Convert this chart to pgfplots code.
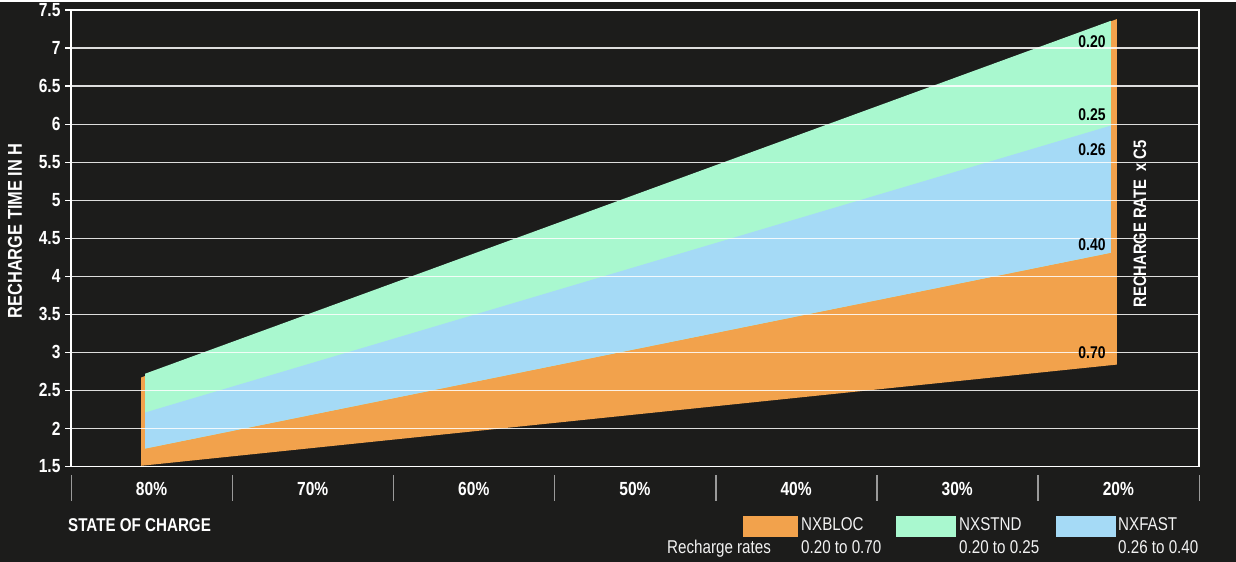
\documentclass[border=0pt]{standalone}
\usepackage{pgfplots}
\pgfplotsset{compat=1.18}
\usepackage{fontspec}
\setmainfont{Liberation Sans}[FakeStretch=0.82]
\definecolor{bg}{HTML}{1C1C1B}
\definecolor{cOr}{HTML}{F2A24C}
\definecolor{cGr}{HTML}{A9F8CF}
\definecolor{cBl}{HTML}{A5DAF6}
\definecolor{sep}{HTML}{9A9A9A}
\begin{document}
\begin{tikzpicture}
\fill[bg] (0pt,0pt) rectangle (1236pt,-560pt);
\begin{axis}[
  at={(71pt,-464.7pt)}, anchor=south west,
  scale only axis, width=1128pt, height=456.6pt,
  xmin=-0.5, xmax=6.5, ymin=1.5, ymax=7.5,
  clip=false,
  axis line style={white, line width=1.2pt},
  ytick pos=left,
  ytick={1.5,2,2.5,3,3.5,4,4.5,5,5.5,6,6.5,7,7.5},
  yticklabels={1.5,2,2.5,3,3.5,4,4.5,5,5.5,6,6.5,7,7.5},
  tick align=outside, major tick length=6pt,
  ytick style={white, line width=1.2pt},
  yticklabel style={font=\bfseries\fontsize{19}{19}\selectfont, text=white, xshift=-1pt},
  xtick={0,1,2,3,4,5,6},
  xticklabels={80\%,70\%,60\%,50\%,40\%,30\%,20\%},
  xtick style={draw=none},
  xticklabel style={font=\bfseries\fontsize{19}{19}\selectfont, text=white, yshift=-6pt},
]
% NXBLOC (orange) underlying area with edge strips
\addplot[fill=cOr, draw=none] coordinates {(-0.065,1.51) (-0.065,2.67) (-0.040,2.69) (5.953,7.35) (5.991,7.38) (5.991,2.84)} -- cycle;
% NXSTND (green)
\addplot[fill=cGr, draw=none] coordinates {(-0.040,2.72) (5.953,7.357) (5.953,4.31) (-0.040,1.737)} -- cycle;
% NXFAST (blue)
\addplot[fill=cBl, draw=none] coordinates {(-0.040,2.21) (5.953,5.98) (5.953,4.31) (-0.040,1.737)} -- cycle;
% horizontal grid lines over the areas
\pgfplotsinvokeforeach{2,2.5,3,3.5,4,4.5,5,5.5,6,6.5,7}{
  \draw[white, opacity=0.85, line width=1.2pt] (axis cs:-0.5,#1) -- (axis cs:6.5,#1);
}
\begin{scope}[every node/.style={anchor=east, inner sep=0pt, font=\bfseries\fontsize{17}{17}\selectfont, text=black}]
\node at (axis cs:5.922,7.09) {0.20};
\node at (axis cs:5.922,6.12) {0.25};
\node at (axis cs:5.922,5.66) {0.26};
\node at (axis cs:5.922,4.41) {0.40};
\node at (axis cs:5.922,3.00) {0.70};
\end{scope}
\node[rotate=90, inner sep=0pt, font=\bfseries\fontsize{18}{18}\selectfont, text=white] at (axis cs:6.134,4.69) {RECHARGE RATE\ \ x C5};
\end{axis}
% y label
\node[rotate=90, inner sep=0pt, font=\bfseries\fontsize{20}{20}\selectfont, text=white] at (15pt,-229pt) {RECHARGE TIME IN H};
% category separators
\foreach \k in {0,...,7} {
  \draw[sep, line width=1.3pt] ({71.5pt+\k*161.1pt},-473pt) -- ({71.5pt+\k*161.1pt},-499pt);
}
\node[anchor=base west, inner sep=0pt, font=\bfseries\fontsize{18.5}{18.5}\selectfont, text=white] at (68pt,-530pt) {STATE OF CHARGE};
% legend
\fill[cOr] (743pt,-514pt) rectangle (798pt,-535pt);
\fill[cGr] (896pt,-514pt) rectangle (956pt,-535pt);
\fill[cBl] (1056pt,-514pt) rectangle (1116pt,-535pt);
\begin{scope}[every node/.style={anchor=base west, inner sep=0pt, font=\fontsize{18.5}{18.5}\selectfont, text=white!90!gray}]
\node at (801pt,-529pt) {NXBLOC};
\node at (959pt,-529pt) {NXSTND};
\node at (1118pt,-529pt) {NXFAST};
\node at (667pt,-552pt) {Recharge rates};
\node at (801pt,-552pt) {0.20 to 0.70};
\node at (959pt,-552pt) {0.20 to 0.25};
\node at (1118pt,-552pt) {0.26 to 0.40};
\end{scope}
\end{tikzpicture}
\end{document}
